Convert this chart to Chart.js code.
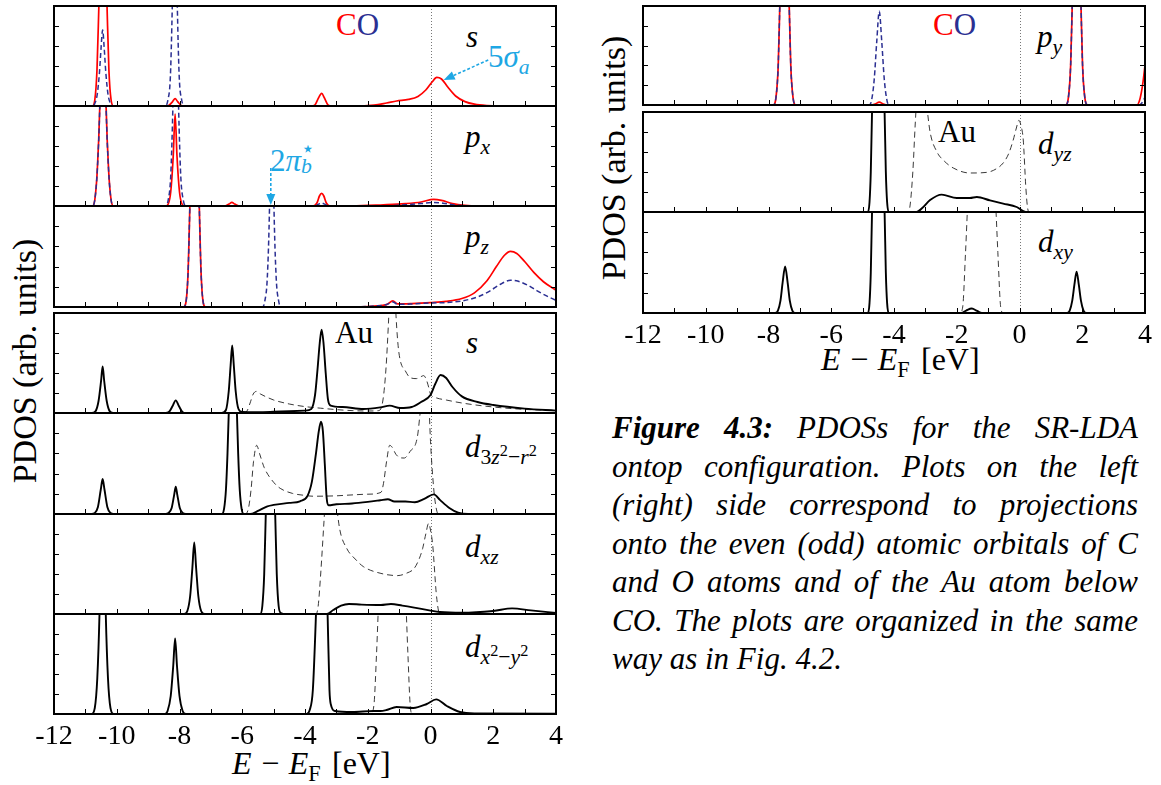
<!DOCTYPE html>
<html>
<head>
<meta charset="utf-8">
<script src="https://cdn.jsdelivr.net/npm/chart.js@4.4.1/dist/chart.umd.min.js"></script>
<style>
  body { margin: 0; background: #fff; }
  #page { position: relative; width: 1161px; height: 785px; overflow: hidden; font-family: 'Liberation Serif', serif; color: #000; }
  canvas { position: absolute; }
  .lab { position: absolute; font-size: 31px; line-height: 31px; white-space: nowrap; }
  .lab i { font-style: italic; }
  sub, sup { line-height: 0; font-size: 0.7em; }
  sub sup { font-size: 0.75em; }
  .stack { display: inline-block; position: relative; width: 0.45em; height: 1em; }
  .stack span { position: absolute; left: 0; font-size: 0.7em; line-height: 1; }
  .xlab { font-size: 32px; line-height: 32px; }
  .xlab .op { margin: 0 0.3em; }
  .xlab .br { margin-left: 0.35em; }
  .ylab { position: absolute; font-size: 34px; line-height: 34px; white-space: nowrap; transform: translate(-50%, -50%) rotate(-90deg); }
  #caption { position: absolute; left: 612px; top: 409px; width: 526px; font-size: 31px; line-height: 38.5px; font-style: italic; }
  #caption div { text-align: justify; text-align-last: justify; white-space: nowrap; }
  #caption div.last { text-align-last: left; }
</style>
</head>
<body>
<div id="page">
  <div class="lab" style="left:336px;top:9px"><span style="color:#ff0000">C</span><span style="color:#2b2f92">O</span></div>
  <div class="lab" style="left:466px;top:21px"><i>s</i></div>
  <div class="lab" style="left:488px;top:41px;color:#1ea7e4">5<i>σ</i><sub><i>a</i></sub></div>
  <div class="lab" style="left:465px;top:121px"><i>p</i><sub><i>x</i></sub></div>
  <div class="lab" style="left:270px;top:140px;color:#1ea7e4">2<i>π</i><span class="stack"><span style="top:-0.05em">⋆</span><span style="top:0.75em"><i>b</i></span></span></div>
  <div class="lab" style="left:465px;top:221px"><i>p</i><sub><i>z</i></sub></div>
  <div class="lab" style="left:335px;top:317px">Au</div>
  <div class="lab" style="left:466px;top:327px"><i>s</i></div>
  <div class="lab" style="left:465px;top:431px"><i>d</i><sub>3<i>z</i><sup>2</sup>−<i>r</i><sup>2</sup></sub></div>
  <div class="lab" style="left:465px;top:531px"><i>d</i><sub><i>xz</i></sub></div>
  <div class="lab" style="left:465px;top:631px"><i>d</i><sub><i>x</i><sup>2</sup>−<i>y</i><sup>2</sup></sub></div>
  <div class="lab xlab" style="left:232px;top:747px"><i>E</i><span class="op">−</span><i>E</i><sub>F</sub><span class="br">[eV]</span></div>

  <div class="lab" style="left:933px;top:9px"><span style="color:#ff0000">C</span><span style="color:#2b2f92">O</span></div>
  <div class="lab" style="left:1037px;top:21px"><i>p</i><sub><i>y</i></sub></div>
  <div class="lab" style="left:938px;top:116px">Au</div>
  <div class="lab" style="left:1038px;top:128px"><i>d</i><sub><i>yz</i></sub></div>
  <div class="lab" style="left:1038px;top:226px"><i>d</i><sub><i>xy</i></sub></div>
  <div class="lab xlab" style="left:821px;top:343px"><i>E</i><span class="op">−</span><i>E</i><sub>F</sub><span class="br">[eV]</span></div>

  <div class="ylab" style="left:25px;top:361px">PDOS (arb. units)</div>
  <div class="ylab" style="left:614px;top:158px">PDOS (arb. units)</div>

  <div id="caption">
    <div><b>Figure 4.3:</b> PDOSs for the SR-LDA</div>
    <div>ontop configuration. Plots on the left</div>
    <div>(right) side correspond to projections</div>
    <div>onto the even (odd) atomic orbitals of C</div>
    <div>and O atoms and of the Au atom below</div>
    <div>CO. The plots are organized in the same</div>
    <div class="last">way as in Fig. 4.2.</div>
  </div>
</div>
<script>
// energy range (eV relative to E_F) and PDOS range of every panel
const E_MIN = -12, E_MAX = 4;
const PDOS_MAX = 5;

// ---- CO, even orbitals (red = C, blue = O) ----
const coS_C = [[-12,0],[-10.78,0],[-10.7,0.3],[-10.63,1.8],[-10.57,5],[-10.5,9],[-10.44,12],[-10.38,9],[-10.31,5],[-10.25,1.8],[-10.18,0.3],[-10.1,0],
  [-8.45,0],[-8.33,0.04],[-8.22,0.22],[-8.14,0.37],[-8.06,0.22],[-7.96,0.04],[-7.85,0],
  [-3.8,0],[-3.68,0.06],[-3.57,0.4],[-3.47,0.63],[-3.38,0.4],[-3.27,0.06],[-3.15,0],
  [-2.2,0],[-1.8,0.04],[-1.4,0.15],[-1.08,0.25],[-0.7,0.33],[-0.4,0.48],[-0.15,0.8],[0.05,1.2],[0.2,1.43],[0.35,1.35],[0.55,0.95],[0.8,0.5],[1.1,0.22],[1.4,0.09],[1.8,0.02],[2.2,0],[4,0]];
const coS_O = [[-12,0],[-10.8,0],[-10.7,0.12],[-10.62,0.6],[-10.55,1.7],[-10.5,2.9],[-10.45,3.8],[-10.4,2.9],[-10.35,1.7],[-10.28,0.6],[-10.2,0.12],[-10.1,0],
  [-8.45,0],[-8.37,0.3],[-8.29,1.5],[-8.23,5],[-8.15,12],[-8.07,5],[-8.01,1.5],[-7.93,0.3],[-7.85,0],[4,0]];

const coPx_C = [[-12,0],[-10.78,0],[-10.7,0.3],[-10.62,1.8],[-10.54,5],[-10.49,9],[-10.44,12],[-10.39,9],[-10.34,5],[-10.26,1.8],[-10.18,0.3],[-10.1,0],
  [-8.45,0],[-8.36,0.1],[-8.28,0.7],[-8.2,2.5],[-8.14,4.6],[-8.08,2.5],[-8.0,0.7],[-7.92,0.1],[-7.83,0],
  [-6.55,0],[-6.42,0.1],[-6.33,0.18],[-6.24,0.1],[-6.1,0],
  [-3.75,0],[-3.62,0.15],[-3.54,0.5],[-3.47,0.63],[-3.4,0.5],[-3.32,0.15],[-3.2,0],
  [-2.5,0],[-1.5,0.06],[-0.8,0.12],[-0.3,0.2],[0.1,0.33],[0.35,0.28],[0.7,0.12],[1.1,0.03],[1.5,0],[4,0]];
const coPx_O = [[-12,0],[-10.78,0],[-10.7,0.3],[-10.62,1.8],[-10.54,5],[-10.49,9],[-10.44,12],[-10.39,9],[-10.34,5],[-10.26,1.8],[-10.18,0.3],[-10.1,0],
  [-8.45,0],[-8.36,0.3],[-8.28,1.5],[-8.21,5],[-8.12,12],[-8.03,5],[-7.96,1.5],[-7.88,0.3],[-7.8,0],
  [-3.7,0],[-3.58,0.08],[-3.47,0.15],[-3.36,0.08],[-3.25,0],
  [-1.5,0],[-0.8,0.06],[-0.3,0.12],[0.1,0.18],[0.4,0.14],[0.8,0.05],[1.2,0],[4,0]];

const coPz_C = [[-12,0],[-7.87,0],[-7.78,0.4],[-7.72,2],[-7.67,5],[-7.6,9],[-7.52,12],[-7.44,9],[-7.37,5],[-7.32,2],[-7.26,0.4],[-7.17,0],
  [-2.5,0],[-1.8,0.05],[-1.4,0.12],[-1.2,0.3],[-1.05,0.15],[-0.6,0.17],[0,0.22],[0.5,0.28],[1.0,0.42],[1.4,0.7],[1.8,1.3],[2.1,2.0],[2.35,2.55],[2.55,2.75],[2.75,2.65],[3.0,2.25],[3.3,1.7],[3.6,1.25],[4.0,0.83]];
const coPz_O = [[-12,0],[-7.87,0],[-7.78,0.4],[-7.72,2],[-7.67,5],[-7.6,9],[-7.52,12],[-7.44,9],[-7.37,5],[-7.32,2],[-7.26,0.4],[-7.17,0],
  [-5.36,0],[-5.28,0.3],[-5.2,1.5],[-5.13,5],[-5.06,12],[-4.99,5],[-4.92,1.5],[-4.84,0.3],[-4.76,0],
  [-2.5,0],[-1.8,0.05],[-1.4,0.12],[-1.2,0.25],[-1.05,0.13],[-0.6,0.15],[0,0.2],[0.5,0.22],[1.0,0.3],[1.5,0.5],[1.9,0.8],[2.2,1.1],[2.55,1.32],[2.8,1.27],[3.1,1.08],[3.4,0.8],[3.7,0.55],[4.0,0.33]];

// ---- CO, odd orbital ----
const coPy_C = [[-12,0],[-7.85,0],[-7.76,0.4],[-7.69,2],[-7.64,5],[-7.57,9],[-7.49,12],[-7.41,9],[-7.34,5],[-7.29,2],[-7.22,0.4],[-7.13,0],
  [-4.75,0],[-4.6,0.05],[-4.47,0.15],[-4.34,0.05],[-4.2,0],
  [1.47,0],[1.56,0.4],[1.63,2],[1.68,5],[1.75,9],[1.82,12],[1.89,9],[1.96,5],[2.01,2],[2.08,0.4],[2.17,0],
  [3.75,0],[3.82,0.2],[3.88,0.6],[3.94,1.2],[4.0,2.0]];
const coPy_O = [[-12,0],[-7.85,0],[-7.76,0.4],[-7.69,2],[-7.64,5],[-7.57,9],[-7.49,12],[-7.41,9],[-7.34,5],[-7.29,2],[-7.22,0.4],[-7.13,0],
  [-4.8,0],[-4.72,0.2],[-4.63,1.3],[-4.55,3.2],[-4.47,4.73],[-4.39,3.2],[-4.31,1.3],[-4.22,0.2],[-4.14,0],
  [1.47,0],[1.56,0.4],[1.63,2],[1.68,5],[1.75,9],[1.82,12],[1.89,9],[1.96,5],[2.01,2],[2.08,0.4],[2.17,0],
  [3.82,0],[3.9,0.1],[3.96,0.25],[4.0,0.4]];

// ---- Au atom below CO (solid) and reference (dashed), even orbitals ----
const auS = [[-12,0],[-10.8,0],[-10.68,0.08],[-10.58,0.6],[-10.5,1.6],[-10.45,2.33],[-10.4,1.6],[-10.32,0.6],[-10.22,0.08],[-10.1,0],
  [-8.45,0],[-8.33,0.06],[-8.22,0.35],[-8.12,0.63],[-8.02,0.35],[-7.91,0.06],[-7.8,0],
  [-6.65,0],[-6.52,0.15],[-6.43,1.1],[-6.37,2.4],[-6.32,3.38],[-6.27,2.4],[-6.21,1.1],[-6.12,0.2],[-6.0,0.05],[-5.5,0.04],[-5.0,0.06],[-4.5,0.09],[-4.0,0.12],
  [-3.8,0.2],[-3.68,0.9],[-3.6,2.2],[-3.53,3.5],[-3.47,4.17],[-3.41,3.5],[-3.34,2],[-3.27,0.7],[-3.18,0.37],[-2.8,0.3],[-2.14,0.2],[-1.6,0.28],[-1.3,0.37],[-0.97,0.25],[-0.6,0.3],[-0.3,0.55],[0,0.9],[0.15,1.45],[0.32,1.9],[0.5,1.75],[0.7,1.3],[1.0,0.83],[1.5,0.55],[2.0,0.4],[3.0,0.22],[4.0,0.12]];
const auS_ref = [[-12,0],[-6.0,0],[-5.85,0.1],[-5.75,0.5],[-5.65,0.95],[-5.55,1.08],[-5.42,0.95],[-5.2,0.78],[-5.0,0.65],[-4.5,0.45],[-4.0,0.32],[-3.5,0.24],[-3.0,0.17],[-2.5,0.12],[-2.0,0.1],[-1.65,0.12],
  [-1.52,0.6],[-1.42,2.2],[-1.34,4.5],[-1.27,7],[-1.18,8],[-1.11,5.2],[-1.04,3.5],[-0.97,2.67],[-0.8,2.1],[-0.65,1.77],[-0.45,1.72],[-0.3,1.82],[-0.22,1.87],[-0.14,1.7],[-0.06,1.3],[0,0.95],[0.2,0.75],[0.5,0.65],[1.0,0.5],[2.0,0.3],[3.0,0.18],[4.0,0.12]];

const auD3z2 = [[-12,0],[-10.8,0],[-10.7,0.05],[-10.6,0.35],[-10.51,1.2],[-10.45,1.73],[-10.39,1.2],[-10.3,0.35],[-10.2,0.05],[-10.1,0],
  [-8.45,0],[-8.35,0.05],[-8.25,0.3],[-8.17,0.95],[-8.12,1.35],[-8.07,0.95],[-7.99,0.3],[-7.9,0.05],[-7.8,0],
  [-6.65,0],[-6.58,0.25],[-6.52,1.2],[-6.47,3],[-6.43,5],[-6.37,8.5],[-6.3,11],[-6.23,8.5],[-6.17,5],[-6.13,3],[-6.08,1.2],[-6.02,0.25],[-5.95,0],
  [-5.75,0],[-5.5,0.15],[-5.2,0.38],[-5.0,0.45],[-4.5,0.55],[-4.16,0.63],[-3.92,0.9],[-3.78,1.6],[-3.65,3],[-3.56,4.1],[-3.49,4.57],[-3.43,4.1],[-3.37,2.5],[-3.31,0.8],[-3.25,0.43],[-3.0,0.48],[-2.5,0.52],[-2.0,0.6],[-1.6,0.68],[-1.36,0.73],[-1.15,0.62],[-0.8,0.62],[-0.5,0.58],[-0.2,0.75],[0.11,0.97],[0.3,0.7],[0.6,0.3],[0.88,0.07],[1.2,0],[4,0]];
const auD3z2_ref = [[-12,0],[-5.9,0],[-5.8,0.3],[-5.72,1.2],[-5.64,2.6],[-5.54,3.4],[-5.45,3.0],[-5.3,2.3],[-5.0,1.57],[-4.79,1.27],[-4.4,1.02],[-4.0,0.92],[-3.73,0.88],[-3.0,0.9],[-2.67,0.93],[-2.0,0.98],[-1.58,1.07],
  [-1.5,1.5],[-1.4,2.6],[-1.3,3.4],[-1.22,3.3],[-1.1,2.95],[-0.95,2.78],[-0.84,2.77],[-0.65,3.1],[-0.42,3.8],[-0.33,5],[-0.22,6.5],[-0.1,7],[-0.05,5.5],[0,3.6],[0.1,1.3],[0.18,0.3],[0.25,0],[4,0]];

const auDxz = [[-12,0],[-7.85,0],[-7.75,0.15],[-7.66,0.9],[-7.59,2.3],[-7.53,3.58],[-7.47,2.3],[-7.4,0.9],[-7.31,0.15],[-7.2,0],
  [-5.43,0],[-5.36,0.4],[-5.3,2],[-5.25,5],[-5.18,9],[-5.1,11],[-5.02,9],[-4.95,5],[-4.9,2],[-4.84,0.4],[-4.77,0.05],[-4.6,0],
  [-3.3,0],[-3.1,0.2],[-2.85,0.42],[-2.6,0.5],[-2.2,0.47],[-1.58,0.45],[-1.26,0.5],[-0.9,0.42],[-0.52,0.32],[0,0.17],[0.3,0.1],[1.0,0.06],[2.0,0.15],[2.6,0.28],[3.2,0.18],[4.0,0.05]];
const auDxz_ref = [[-12,0],[-3.65,0],[-3.58,0.4],[-3.5,2],[-3.4,4.5],[-3.3,7],[-3.15,8],[-3.03,6],[-2.9,4.3],[-2.67,3.28],[-2.4,2.75],[-2.14,2.37],[-1.58,2.03],[-1.05,1.92],[-0.75,2.05],[-0.52,2.28],[-0.35,2.8],[-0.25,3.28],[-0.15,4.0],[-0.06,4.53],[0.0,4.2],[0.07,3.45],[0.18,1.1],[0.25,0.2],[0.3,0],[4,0]];

const auDx2y2 = [[-12,0],[-10.8,0],[-10.7,0.3],[-10.62,1.8],[-10.55,5],[-10.5,9],[-10.45,12],[-10.4,9],[-10.35,5],[-10.28,1.8],[-10.2,0.3],[-10.1,0],
  [-8.47,0],[-8.38,0.15],[-8.28,0.9],[-8.2,2.4],[-8.14,3.78],[-8.08,2.4],[-8.0,0.9],[-7.9,0.15],[-7.8,0],
  [-3.95,0],[-3.85,0.2],[-3.75,1.2],[-3.65,5],[-3.55,10],[-3.46,12],[-3.37,10],[-3.28,5],[-3.22,1.2],[-3.18,0.5],[-3.04,0.15],[-2.5,0.1],[-1.82,0.15],[-1.6,0.15],[-1.4,0.2],[-1.08,0.35],[-0.55,0.3],[-0.12,0.5],[0.18,0.73],[0.52,0.4],[0.94,0.1],[1.4,0.03],[4,0.02]];
const auDx2y2_ref = [[-12,0],[-1.9,0],[-1.8,0.5],[-1.72,3],[-1.64,6],[-1.5,8],[-1.2,8.5],[-0.95,8],[-0.8,6],[-0.72,3],[-0.65,0.5],[-0.58,0],[4,0]];

// ---- Au atom below CO, odd orbitals ----
const auDyz = [[-12,0],[-4.83,0],[-4.78,0.5],[-4.74,2],[-4.7,5],[-4.6,10],[-4.5,12],[-4.4,10],[-4.3,5],[-4.26,2],[-4.22,0.5],[-4.17,0],
  [-3.28,0],[-3.1,0.2],[-2.85,0.6],[-2.48,0.87],[-2.0,0.7],[-1.58,0.7],[-1.36,0.75],[-0.94,0.58],[-0.52,0.42],[-0.09,0.25],[0.12,0.05],[0.25,0],[4,0]];
const auDyz_ref = [[-12,0],[-3.55,0],[-3.49,0.3],[-3.4,2],[-3.32,4.5],[-3.26,6],[-3.14,7],[-3.01,6],[-2.85,4],[-2.64,3.03],[-2.4,2.55],[-2.11,2.2],[-1.58,1.95],[-1.05,1.98],[-0.75,2.15],[-0.52,2.45],[-0.35,2.9],[-0.2,3.6],[-0.1,4.2],[-0.02,4.58],[0.05,4.3],[0.12,3.6],[0.2,1.28],[0.25,0.3],[0.3,0],[4,0]];

const auDxy = [[-12,0],[-7.8,0],[-7.7,0.12],[-7.62,0.6],[-7.55,1.5],[-7.47,2.3],[-7.39,1.5],[-7.32,0.6],[-7.24,0.12],[-7.15,0],
  [-4.83,0],[-4.78,0.5],[-4.74,2],[-4.7,5],[-4.6,10],[-4.5,12],[-4.4,10],[-4.3,5],[-4.26,2],[-4.22,0.5],[-4.17,0],
  [-1.85,0],[-1.7,0.12],[-1.52,0.22],[-1.35,0.1],[-1.2,0],
  [1.5,0],[1.6,0.12],[1.68,0.6],[1.75,1.4],[1.82,2.05],[1.89,1.4],[1.96,0.6],[2.04,0.12],[2.14,0],[4,0]];
const auDxy_ref = [[-12,0],[-1.9,0],[-1.81,0.3],[-1.72,3],[-1.63,6],[-1.5,8],[-1.2,8.5],[-0.9,8],[-0.78,6],[-0.69,3],[-0.6,0.3],[-0.52,0],[4,0]];

const RED = '#ff0000', BLUE = '#2b2f92', CYAN = '#1ea7e4';
const SERIF = "'Liberation Serif', serif";

function pts(a) { return a.map(p => ({x: p[0], y: p[1]})); }

function co(c, o) {
  return [
    {data: pts(c), borderColor: RED, borderWidth: 1.7, order: 2},
    {data: pts(o), borderColor: BLUE, borderWidth: 1.5, borderDash: [5, 3], order: 1}
  ];
}
function au(s, ref) {
  return [
    {data: pts(s), borderColor: '#000', borderWidth: 1.9, order: 1},
    {data: pts(ref), borderColor: '#222', borderWidth: 0.9, borderDash: [6, 4], order: 2}
  ];
}

// frame, inward ticks, dotted E_F line and the cyan arrows
const frame = {
  id: 'frame',
  beforeDatasetsDraw(chart) {
    const {ctx, chartArea: a, scales: {x}} = chart;
    const x0 = Math.round(x.getPixelForValue(0)) + 0.5;
    ctx.save();
    ctx.strokeStyle = '#777';
    ctx.lineWidth = 1;
    ctx.setLineDash([1, 2]);
    ctx.beginPath();
    ctx.moveTo(x0, a.top);
    ctx.lineTo(x0, a.bottom);
    ctx.stroke();
    ctx.restore();
  },
  afterDatasetsDraw(chart, args, opts) {
    const {ctx, chartArea: a, scales: {x, y}} = chart;
    ctx.save();
    ctx.strokeStyle = '#000';
    ctx.lineWidth = 1;
    ctx.beginPath();
    for (let e = E_MIN + 1; e < E_MAX; e++) {
      const px = Math.round(x.getPixelForValue(e)) + 0.5;
      ctx.moveTo(px, a.bottom);
      ctx.lineTo(px, a.bottom - 5);
    }
    for (let v = 1; v < PDOS_MAX; v++) {
      const py = Math.round(y.getPixelForValue(v)) + 0.5;
      ctx.moveTo(a.left, py); ctx.lineTo(a.left + 5, py);
      ctx.moveTo(a.right, py); ctx.lineTo(a.right - 5, py);
    }
    ctx.stroke();
    ctx.lineWidth = 2;
    ctx.strokeRect(a.left, a.top, a.right - a.left, a.bottom - a.top);

    (opts.arrows || []).forEach(ar => {
      const x1 = x.getPixelForValue(ar.from[0]), y1 = y.getPixelForValue(ar.from[1]);
      const x2 = x.getPixelForValue(ar.to[0]), y2 = y.getPixelForValue(ar.to[1]);
      const ang = Math.atan2(y2 - y1, x2 - x1);
      const hl = 11, hw = 4.5;
      ctx.strokeStyle = CYAN; ctx.fillStyle = CYAN;
      ctx.lineWidth = 1.6;
      ctx.setLineDash([3, 2]);
      ctx.beginPath();
      ctx.moveTo(x1, y1);
      ctx.lineTo(x2 - hl * Math.cos(ang), y2 - hl * Math.sin(ang));
      ctx.stroke();
      ctx.setLineDash([]);
      ctx.beginPath();
      ctx.moveTo(x2, y2);
      ctx.lineTo(x2 - hl * Math.cos(ang) + hw * Math.sin(ang), y2 - hl * Math.sin(ang) - hw * Math.cos(ang));
      ctx.lineTo(x2 - hl * Math.cos(ang) - hw * Math.sin(ang), y2 - hl * Math.sin(ang) + hw * Math.cos(ang));
      ctx.closePath();
      ctx.fill();
    });
    ctx.restore();
  }
};

const cols = [
  {left: 10, width: 570, plotLeft: 54, plotWidth: 502},
  {left: 600, width: 561, plotLeft: 643, plotWidth: 502}
];

const panels = [
  {col: 0, top: 6, bottom: 106, sets: co(coS_C, coS_O), arrows: [{from: [1.84, 2.3], to: [0.42, 1.3]}]},
  {col: 0, top: 106, bottom: 206, sets: co(coPx_C, coPx_O), arrows: [{from: [-5.09, 1.9], to: [-5.09, 0.05]}]},
  {col: 0, top: 206, bottom: 307, sets: co(coPz_C, coPz_O)},
  {col: 0, top: 313, bottom: 413, sets: au(auS, auS_ref)},
  {col: 0, top: 413, bottom: 514, sets: au(auD3z2, auD3z2_ref)},
  {col: 0, top: 514, bottom: 614, sets: au(auDxz, auDxz_ref)},
  {col: 0, top: 614, bottom: 714, sets: au(auDx2y2, auDx2y2_ref), axis: true},
  {col: 1, top: 6, bottom: 105, sets: co(coPy_C, coPy_O)},
  {col: 1, top: 112, bottom: 212, sets: au(auDyz, auDyz_ref)},
  {col: 1, top: 212, bottom: 313, sets: au(auDxy, auDxy_ref), axis: true}
];

const AXIS_H = 48;
const page = document.getElementById('page');

panels.forEach(p => {
  const c = cols[p.col];
  const cv = document.createElement('canvas');
  cv.width = c.width;
  cv.height = (p.bottom - p.top) + 3 + (p.axis ? AXIS_H : 3);
  cv.style.left = c.left + 'px';
  cv.style.top = (p.top - 3) + 'px';
  page.appendChild(cv);

  const xScale = {
    type: 'linear', min: E_MIN, max: E_MAX,
    display: !!p.axis,
    grid: {display: false},
    border: {display: false},
    ticks: {stepSize: 2, autoSkip: false, maxRotation: 0, padding: -2, color: '#000', font: {family: SERIF, size: 28}}
  };
  if (p.axis) xScale.afterFit = s => { s.height = AXIS_H; };

  new Chart(cv, {
    type: 'line',
    data: {datasets: p.sets},
    options: {
      responsive: false,
      animation: false,
      events: [],
      layout: {padding: {left: c.plotLeft - c.left, right: c.width - (c.plotLeft - c.left) - c.plotWidth, top: 3, bottom: p.axis ? 0 : 3}},
      elements: {
        point: {radius: 0},
        line: {tension: 0.3, cubicInterpolationMode: 'monotone', fill: false}
      },
      plugins: {
        legend: {display: false},
        tooltip: {enabled: false},
        frame: {arrows: p.arrows || []}
      },
      scales: {
        x: xScale,
        y: {min: 0, max: PDOS_MAX, display: false}
      }
    },
    plugins: [frame]
  });
});
</script>
</body>
</html>
